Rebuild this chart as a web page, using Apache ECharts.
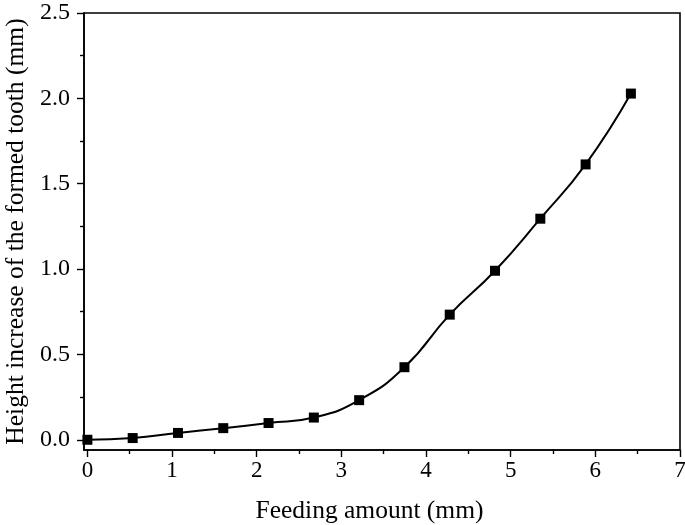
<!DOCTYPE html>
<html>
<head>
<meta charset="utf-8">
<script src="https://cdn.jsdelivr.net/npm/echarts@6/dist/echarts.min.js"></script>
<style>
html,body{margin:0;padding:0;background:#fff;}
#chart{width:685px;height:525px;}
</style>
</head>
<body>
<div id="chart"></div>
<script>
// Data
const feeding = [0, 0.535, 1.07, 1.605, 2.14, 2.675, 3.21, 3.745, 4.28, 4.815, 5.35, 5.885, 6.42];
const heightIncrease = [0, 0.01, 0.04, 0.068, 0.098, 0.13, 0.232, 0.425, 0.733, 0.99, 1.295, 1.613, 2.028];
const xMajorTicks = [0, 1, 2, 3, 4, 5, 6, 7];
const xMinorTicks = [0.5, 1.5, 2.5, 3.5, 4.5, 5.5, 6.5];
const yMajorTicks = [0, 0.5, 1.0, 1.5, 2.0, 2.5];
const yMinorTicks = [0.25, 0.75, 1.25, 1.75, 2.25];
const xTitle = 'Feeding amount (mm)';
const yTitle = 'Height increase of the formed tooth (mm)';

const FONT = '"Liberation Serif", "Times New Roman", serif';
const X_MIN = -0.04, X_MAX = 7, Y_MIN = -0.06, Y_MAX = 2.5;

const chart = echarts.init(document.getElementById('chart'), null, {renderer: 'canvas'});
const points = feeding.map((x, i) => [x, heightIncrease[i]]);

chart.setOption({
  animation: false,
  backgroundColor: '#fff',
  grid: {
    left: 84, right: 5, top: 13, bottom: 75,
    show: true, borderColor: '#000', borderWidth: 1.6,
    containLabel: false, outerBoundsMode: 'none'
  },
  xAxis: [
    {
      type: 'value', min: X_MIN, max: X_MAX, position: 'bottom',
      splitLine: {show: false},
      axisLine: {show: true, onZero: false, lineStyle: {color: '#000', width: 1.6}},
      axisTick: {show: true, inside: false, length: 7, customValues: xMajorTicks, lineStyle: {color: '#000', width: 1.4}},
      axisLabel: {show: true, customValues: xMajorTicks, margin: 9, color: '#000', fontFamily: FONT, fontSize: 23,
        formatter: v => String(Math.round(v))},
      name: xTitle, nameLocation: 'middle', nameGap: 48,
      nameTextStyle: {color: '#000', fontFamily: FONT, fontSize: 25.5, padding: [0, 25, 0, 0]}
    },
    {
      type: 'value', min: X_MIN, max: X_MAX, position: 'bottom',
      splitLine: {show: false},
      axisLine: {show: false, onZero: false},
      axisTick: {show: true, inside: false, length: 4, customValues: xMinorTicks, lineStyle: {color: '#000', width: 1.4}},
      axisLabel: {show: false}
    }
  ],
  yAxis: [
    {
      type: 'value', min: Y_MIN, max: Y_MAX, position: 'left',
      splitLine: {show: false},
      axisLine: {show: true, onZero: false, lineStyle: {color: '#000', width: 1.6}},
      axisTick: {show: true, inside: false, length: 7, customValues: yMajorTicks, lineStyle: {color: '#000', width: 1.4}},
      axisLabel: {show: true, customValues: yMajorTicks, margin: 14, color: '#000', fontFamily: FONT, fontSize: 24,
        formatter: v => v.toFixed(1)},
      name: yTitle, nameLocation: 'middle', nameGap: 53, nameRotate: 90,
      nameTextStyle: {color: '#000', fontFamily: FONT, fontSize: 25.5, padding: [0, 0, 0, 0]}
    },
    {
      type: 'value', min: Y_MIN, max: Y_MAX, position: 'left',
      splitLine: {show: false},
      axisLine: {show: false, onZero: false},
      axisTick: {show: true, inside: false, length: 4, customValues: yMinorTicks, lineStyle: {color: '#000', width: 1.4}},
      axisLabel: {show: false}
    }
  ],
  series: [{
    type: 'line',
    xAxisIndex: 0, yAxisIndex: 0,
    data: points,
    smooth: 0.5,
    symbol: 'rect', symbolSize: 10,
    itemStyle: {color: '#000'},
    lineStyle: {color: '#000', width: 2},
    clip: false
  }]
});
</script>
</body>
</html>
